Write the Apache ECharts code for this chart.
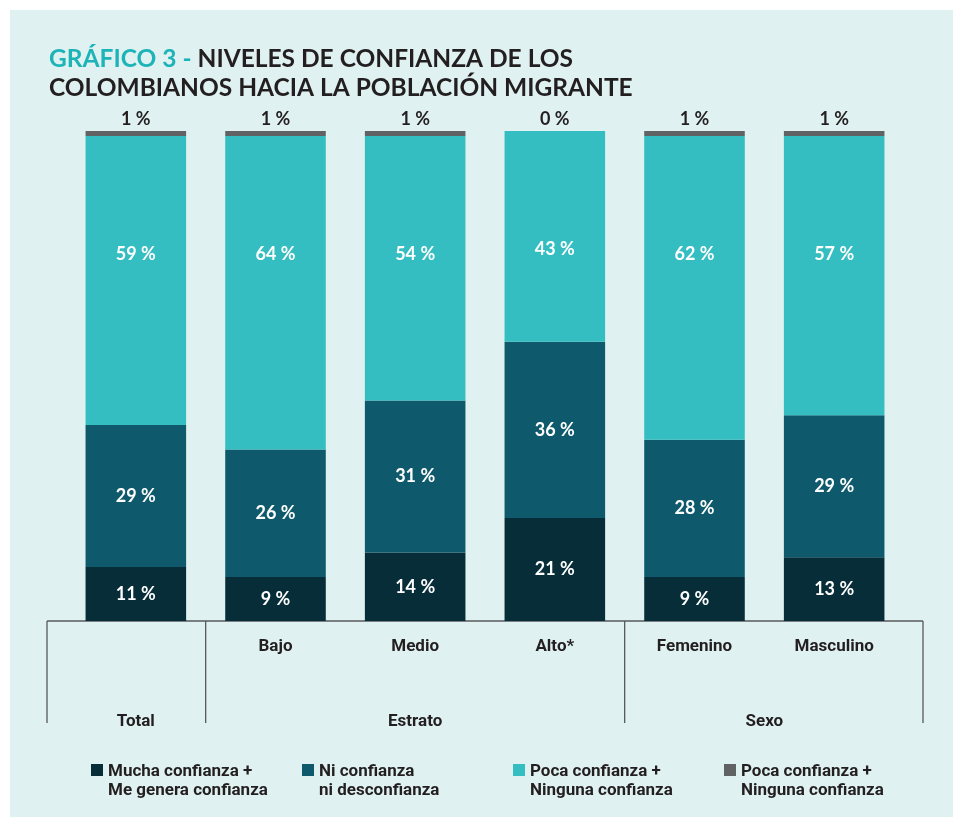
<!DOCTYPE html>
<html>
<head>
<meta charset="utf-8">
<title>Niveles de confianza</title>
<script src="https://cdn.jsdelivr.net/npm/echarts@6/dist/echarts.min.js"></script>
<style>
  html, body { margin: 0; padding: 0; background: #fff; }
  #chart { width: 953px; height: 817px; }
</style>
</head>
<body>
<div id="chart"></div>
<script>
  // categorias y grupos
  var categories = ['Total', 'Bajo', 'Medio', 'Alto*', 'Femenino', 'Masculino'];
  var groupNames = ['Total', 'Estrato', 'Sexo'];
  var groupFrom = [0, 1, 4];
  var groupTo = [0, 3, 5];

  // valores (%)
  var mucha = [11, 9, 14, 21, 9, 13];
  var ni = [29, 26, 31, 36, 28, 29];
  var poca = [59, 64, 54, 43, 62, 57];
  var ninguna = [1, 1, 1, 0, 1, 1];

  var legendLabels = [
    'Mucha confianza +\nMe genera confianza',
    'Ni confianza\nni desconfianza',
    'Poca confianza +\nNinguna confianza',
    'Poca confianza +\nNinguna confianza'
  ];
  var seriesKeys = ['mucha', 'ni', 'poca', 'ninguna'];

  var textColor = '#231f20';
  var lineColor = '#58595b';

  var chart = echarts.init(document.getElementById('chart'));

  var pct = function (p) { return p.value + ' %'; };
  var whiteLabel = {
    show: true,
    color: '#fff',
    fontFamily: 'Lato',
    fontWeight: 'bold',
    fontSize: 18,
    formatter: pct
  };

  chart.setOption({
    backgroundColor: '#fff',
    animation: false,
    title: {
      left: 44,
      top: 40,
      text: '{a|GRÁFICO 3 - }{b|NIVELES DE CONFIANZA DE LOS}\n{b|COLOMBIANOS HACIA LA POBLACIÓN MIGRANTE}',
      textStyle: {
        rich: {
          a: { color: '#1db4b8', fontFamily: 'Lato', fontWeight: 'bold', fontSize: 24.5, lineHeight: 29 },
          b: { color: textColor, fontFamily: 'Lato', fontWeight: 'bold', fontSize: 24.5, lineHeight: 29 }
        }
      }
    },
    legend: {
      left: 86,
      top: 757,
      itemWidth: 12,
      itemHeight: 38,
      itemGap: 20,
      icon: 'path://M0,0L0.01,0M0,2H12V14H0ZM0,38L0.01,38',
      data: seriesKeys,
      formatter: function (name) {
        return legendLabels[seriesKeys.indexOf(name)];
      },
      textStyle: {
        color: textColor,
        fontFamily: 'Roboto',
        fontWeight: 'bold',
        fontSize: 17,
        lineHeight: 19,
        width: 174,
        overflow: 'none'
      }
    },
    grid: {
      left: 66,
      right: 49,
      top: 131,
      bottom: 196
    },
    xAxis: {
      type: 'category',
      data: categories,
      axisLine: { show: false },
      axisTick: { show: false },
      axisLabel: {
        margin: 17,
        color: textColor,
        fontFamily: 'Roboto',
        fontWeight: 'bold',
        fontSize: 17,
        formatter: function (v, i) {
          return i === 0 ? '' : v;
        }
      }
    },
    yAxis: {
      type: 'value',
      min: 0,
      max: 100,
      show: false
    },
    series: [{
      name: 'mucha',
      type: 'bar',
      stack: 'total',
      barCategoryGap: '28%',
      itemStyle: { color: '#072d38' },
      label: Object.assign({ position: 'inside' }, whiteLabel),
      data: mucha
    }, {
      name: 'ni',
      type: 'bar',
      stack: 'total',
      itemStyle: { color: '#0e5a6c' },
      label: Object.assign({ position: 'inside' }, whiteLabel),
      data: ni
    }, {
      name: 'poca',
      type: 'bar',
      stack: 'total',
      itemStyle: { color: '#34bec1' },
      label: Object.assign({ position: 'insideTop', distance: 109 }, whiteLabel),
      data: poca
    }, {
      name: 'ninguna',
      type: 'bar',
      stack: 'total',
      itemStyle: { color: '#616264' },
      label: {
        show: true,
        position: 'top',
        distance: 3,
        color: textColor,
        fontFamily: 'Lato',
        fontWeight: 'bold',
        fontSize: 18,
        formatter: pct
      },
      data: ninguna
    }]
  });

  // fondo y llaves de agrupacion, calculados desde el eje
  function drawGroups() {
    var xs = categories.map(function (c, i) {
      return chart.convertToPixel({ xAxisIndex: 0 }, i);
    });
    var band = xs[1] - xs[0];
    var ext = 19;
    var y0 = chart.convertToPixel({ yAxisIndex: 0 }, 0);
    var depth = 102;
    var leftEdge = xs[0] - band / 2 - ext;
    var rightEdge = xs[xs.length - 1] + band / 2 + ext;

    var elements = [{
      type: 'rect',
      z: -10,
      silent: true,
      shape: { x: 10, y: 10, width: 943, height: 807 },
      style: { fill: '#e0f1f1' }
    }, {
      type: 'line',
      silent: true,
      shape: { x1: leftEdge, y1: y0, x2: rightEdge, y2: y0 },
      style: { stroke: lineColor, lineWidth: 1.3 }
    }];

    var cuts = [leftEdge];
    groupTo.forEach(function (t, gi) {
      cuts.push(gi === groupTo.length - 1 ? rightEdge : xs[t] + band / 2);
    });
    cuts.forEach(function (x) {
      elements.push({
        type: 'line',
        silent: true,
        shape: { x1: x, y1: y0, x2: x, y2: y0 + depth },
        style: { stroke: lineColor, lineWidth: 1.3 }
      });
    });

    groupNames.forEach(function (g, gi) {
      var cx = (xs[groupFrom[gi]] + xs[groupTo[gi]]) / 2;
      elements.push({
        type: 'text',
        silent: true,
        x: cx,
        y: y0 + 101,
        style: {
          text: g,
          align: 'center',
          verticalAlign: 'middle',
          fill: textColor,
          fontFamily: 'Roboto',
          fontWeight: 'bold',
          fontSize: 17
        }
      });
    });

    chart.setOption({ graphic: { elements: elements } });
  }

  drawGroups();
</script>
</body>
</html>
